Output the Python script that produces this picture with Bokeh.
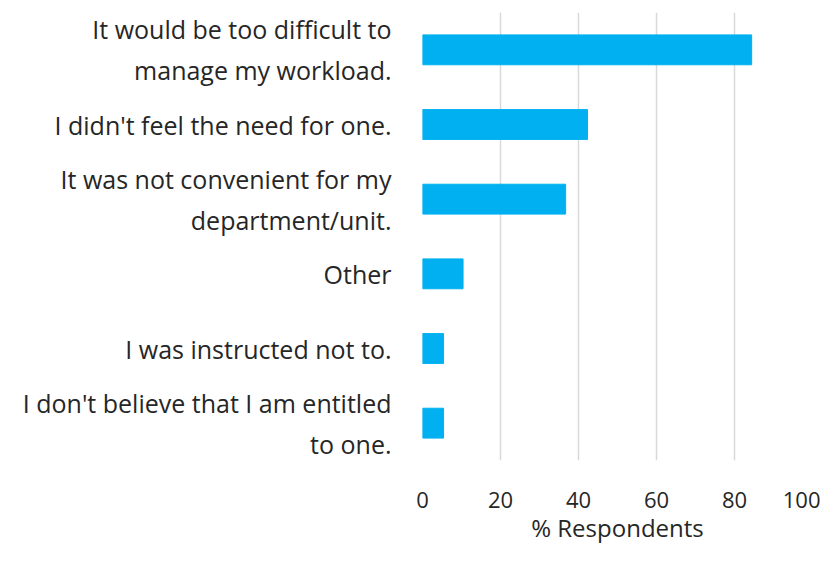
from bokeh.plotting import figure
from bokeh.models import Range1d, FactorRange
from bokeh.embed import file_html
from bokeh.resources import INLINE

categories = [
    "It would be too difficult to\nmanage my workload.",
    "I didn't feel the need for one.",
    "It was not convenient for my\ndepartment/unit.",
    "Other",
    "I was instructed not to.",
    "I don't believe that I am entitled\nto one.",
]
values = [84.4, 42.3, 36.7, 10.4, 5.4, 5.4]
x_ticks = [0, 20, 40, 60, 80, 100]

FONT = "Open Sans"
TXT = "#262626"

p = figure(
    width=820, height=546,
    y_range=FactorRange(*reversed(categories)),
    x_range=Range1d(0, 100),
    output_backend="svg", toolbar_location=None,
    min_border_left=422, min_border_right=8,
    min_border_top=12, min_border_bottom=78,
)
p.hbar(y=categories, right=values, left=0, height=0.4,
       fill_color="#00B0F0", line_color="#00B0F0")

p.xaxis.ticker = x_ticks
p.xaxis.axis_label = "% Respondents"
p.xaxis.axis_label_text_font = FONT
p.xaxis.axis_label_text_font_style = "normal"
p.xaxis.axis_label_text_font_size = "24px"
p.xaxis.axis_label_text_color = TXT
p.xaxis.axis_label_standoff = 0
p.xaxis.major_label_text_font = FONT
p.xaxis.major_label_text_font_size = "22px"
p.xaxis.major_label_text_color = TXT
p.xaxis.major_label_standoff = 25

p.yaxis.major_label_text_font = FONT
p.yaxis.major_label_text_font_size = "25px"
p.yaxis.major_label_text_color = TXT
p.yaxis.major_label_standoff = 25

for ax in (p.xaxis, p.yaxis):
    ax.axis_line_color = None
    ax.major_tick_line_color = None
    ax.minor_tick_line_color = None

p.ygrid.grid_line_color = None
p.xgrid.grid_line_color = "#d9d9d9"
p.xgrid.grid_line_width = 1.5
p.outline_line_color = None
p.background_fill_color = "white"
p.border_fill_color = "white"

open("out.html", "w").write(file_html(p, INLINE))
